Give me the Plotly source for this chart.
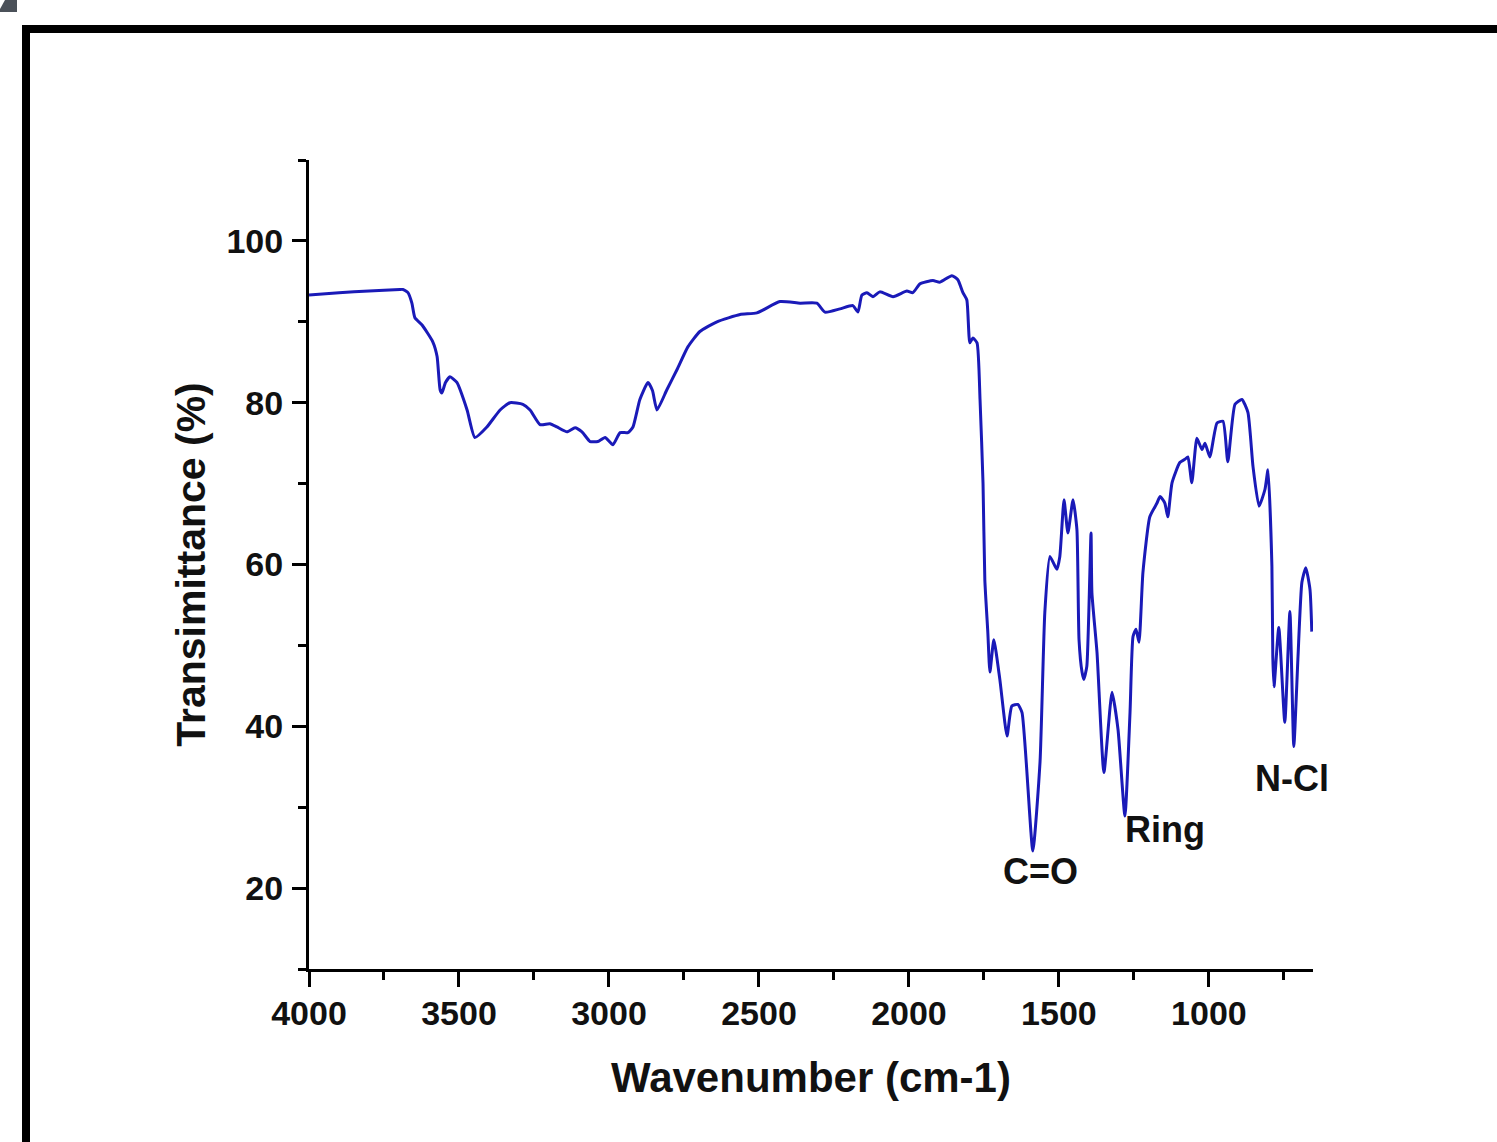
import plotly.graph_objects as go

# ---- data ----
wavenumber = [4000, 3900, 3800, 3697, 3687, 3670, 3657, 3647, 3623, 3587, 3573, 3563, 3557, 3545,
              3530, 3507, 3473, 3447, 3407, 3363, 3330, 3287, 3263, 3230, 3197, 3173, 3140, 3113,
              3090, 3063, 3037, 3013, 2987, 2963, 2937, 2920, 2897, 2870, 2855, 2840, 2807, 2773,
              2737, 2697, 2640, 2563, 2507, 2430, 2363, 2307, 2280, 2230, 2187, 2170, 2157, 2140,
              2120, 2097, 2053, 2007, 1987, 1963, 1920, 1897, 1857, 1837, 1820, 1807, 1797, 1787,
              1773, 1763, 1753, 1747, 1737, 1730, 1717, 1697, 1673, 1657, 1637, 1623, 1587, 1563,
              1547, 1530, 1507, 1497, 1483, 1470, 1453, 1440, 1433, 1423, 1417, 1407, 1393, 1390,
              1373, 1350, 1323, 1303, 1280, 1263, 1253, 1243, 1233, 1220, 1197, 1173, 1163, 1147,
              1137, 1123, 1097, 1080, 1070, 1057, 1040, 1023, 1013, 997, 973, 953, 937, 913, 890,
              870, 853, 833, 813, 803, 790, 787, 783, 767, 747, 730, 717, 703, 690, 677, 663, 657]
transmittance = [93.3, 93.6, 93.8, 94.0, 94.0, 93.6, 92.3, 90.5, 89.6, 87.5, 85.7, 81.6, 81.2, 82.5,
                 83.2, 82.5, 79.1, 75.7, 77.0, 79.1, 80.0, 79.8, 79.1, 77.3, 77.4, 77.0, 76.4, 76.9,
                 76.4, 75.2, 75.2, 75.7, 74.8, 76.3, 76.3, 77.0, 80.4, 82.5, 81.5, 79.1, 81.6, 84.1,
                 86.9, 88.8, 90.0, 90.9, 91.1, 92.5, 92.3, 92.3, 91.2, 91.6, 92.0, 91.2, 93.3, 93.6,
                 93.1, 93.7, 93.1, 93.8, 93.6, 94.7, 95.1, 94.9, 95.7, 95.2, 93.6, 92.7, 87.4, 88.0,
                 87.4, 80.4, 70.0, 58.1, 51.6, 46.7, 50.7, 45.8, 38.8, 42.5, 42.7, 41.7, 24.6, 35.6,
                 54.1, 61.0, 59.4, 61.0, 68.0, 63.9, 68.0, 64.3, 50.7, 46.7, 45.8, 47.4, 63.9, 56.5,
                 49.1, 34.3, 44.2, 39.6, 28.9, 41.7, 51.1, 52.0, 50.4, 59.0, 65.9, 67.6, 68.4, 67.6,
                 65.9, 70.1, 72.6, 73.0, 73.3, 70.1, 75.6, 74.2, 75.0, 73.3, 77.5, 77.7, 72.7, 79.8, 80.4,
                 78.8, 72.1, 67.2, 69.3, 71.7, 59.8, 48.6, 44.9, 52.2, 40.5, 54.2, 37.5, 48.6, 57.8, 59.6,
                 56.9, 51.7]

peak_labels = ["C=O", "Ring", "N-Cl"]
peak_label_x = [1563, 1147, 723]
peak_label_y = [22.1, 27.3, 33.5]

x_tick_vals = [4000, 3500, 3000, 2500, 2000, 1500, 1000]
y_tick_vals = [20, 40, 60, 80, 100]

# ---- figure ----
W, H = 1497, 1142
OFF = 0  # body margin is removed by post_script below
L, T = 309 - OFF, 160 - OFF
PW, PH = 1004, 809
R, B = W - L - PW, H - T - PH
FONT = "Liberation Sans, Arial, sans-serif"

fig = go.Figure()
fig.add_trace(go.Scatter(x=wavenumber, y=transmittance, mode="lines",
                         line=dict(color="#1a1ab8", width=3, shape="spline", smoothing=0.5),
                         showlegend=False, hoverinfo="x+y"))

for txt, xv, yv in zip(peak_labels, peak_label_x, peak_label_y):
    fig.add_annotation(x=xv, y=yv, text=txt, showarrow=False,
                       font=dict(family=FONT, size=36, color="#111111", weight="bold"))


def px2paper(px, py):
    return (px - OFF - L) / PW, (T + PH - (py - OFF)) / PH


# black outer frame (decoration of the reference image)
x0, y0 = px2paper(26, 29)
x1, y1 = px2paper(1530, 1170)
fig.add_shape(type="rect", xref="paper", yref="paper", x0=x0, y0=y1, x1=x1, y1=y0,
              line=dict(color="black", width=8), fillcolor="rgba(0,0,0,0)", layer="below")

# small grey fragment at the top-left corner
pts = [(5, 0), (17, 0), (17, 12), (0, 12), (0, 9)]
path = "M " + " L ".join(f"{px2paper(a, b)[0]},{px2paper(a, b)[1]}" for a, b in pts) + " Z"
fig.add_shape(type="path", xref="paper", yref="paper", path=path,
              fillcolor="#4b5159", line=dict(width=0))

fig.update_layout(
    width=W, height=H,
    margin=dict(l=L, r=R, t=T, b=B, pad=0),
    paper_bgcolor="white", plot_bgcolor="white",
    font=dict(family=FONT, color="#111111"),
    xaxis=dict(
        range=[4000, 653], autorange=False,
        tickvals=x_tick_vals, ticktext=[str(v) for v in x_tick_vals],
        ticks="outside", ticklen=15, tickwidth=3, tickcolor="black",
        minor=dict(dtick=250, tick0=0, ticks="outside", ticklen=8, tickwidth=3, tickcolor="black"),
        showline=True, linewidth=3, linecolor="black", mirror=False,
        showgrid=False, zeroline=False,
        tickfont=dict(family=FONT, size=34, color="#111111", weight="bold"),
        ticklabelstandoff=-3,
        title=dict(text="Wavenumber (cm-1)", standoff=32,
                   font=dict(family=FONT, size=42, color="#111111", weight="bold")),
    ),
    yaxis=dict(
        range=[10, 110], autorange=False,
        tickvals=y_tick_vals, ticktext=[str(v) for v in y_tick_vals],
        ticks="outside", ticklen=14, tickwidth=3, tickcolor="black",
        minor=dict(dtick=10, tick0=0, ticks="outside", ticklen=8, tickwidth=3, tickcolor="black"),
        showline=True, linewidth=3, linecolor="black", mirror=False,
        showgrid=False, zeroline=False,
        tickfont=dict(family=FONT, size=34, color="#111111", weight="bold"),
        ticklabelstandoff=2,
        title=dict(text="Transimittance (%)", standoff=9,
                   font=dict(family=FONT, size=41, color="#111111", weight="bold")),
    ),
)

fig.write_html("out.html",
               config={"displayModeBar": False},
               post_script="document.body.style.margin='0';document.body.style.overflow='hidden';")
